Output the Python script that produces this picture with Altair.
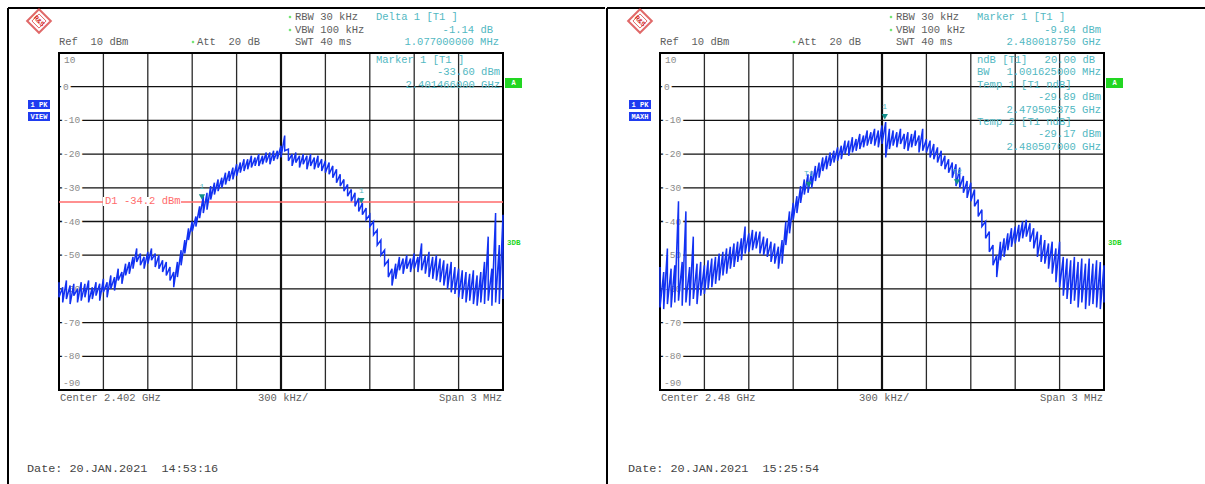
import altair as alt
import pandas as pd

# ---------------- data ----------------
SWEEP_START = -1.5      # MHz offset from centre
SWEEP_STEP = 0.025      # MHz per display column

# auto-peak detector: max and min level of each display column (dBm)
LEFT_HI = [
    -58, -59.5, -57.5, -59, -58.5, -60, -58, -58.5, -57.5, -59.5, -58, -58.5,
    -57, -58, -56, -56.5, -54, -55, -52.5, -52, -50.5, -48, -49.5, -50.5,
    -49, -48, -49.5, -50, -51.5, -52, -53.5, -55, -52, -48.5, -45.5, -42,
    -40, -38.5, -35.5, -32.5, -31.5, -29.5, -28.5, -27.5, -27, -25.5, -25, -24,
    -23, -22.5, -21.5, -21.5, -20.5, -21, -20, -20.5, -19.5, -19.5, -19, -19,
    -17.5, -14.5, -18.5, -20, -19.5, -20.5, -20, -20.5, -20, -21, -20.5, -21.5,
    -22, -22.5, -23.5, -24.5, -26, -27.5, -29, -30.5, -31.5, -33, -34.5, -36,
    -38, -40, -42.5, -45.5, -48.5, -51.5, -54, -52.5, -50.5, -51, -50, -51,
    -49.5, -50.5, -46.5, -50, -49, -50.5, -50, -51, -51.5, -52.5, -52, -53.5,
    -54, -54.5, -55, -55.5, -54.5, -56, -55, -52, -44.5, -54, -37.5, -47,
    -38,
]
LEFT_LO = [
    -62.5, -64, -63, -64.5, -62, -64, -63.5, -62.5, -64, -63, -62, -63.5,
    -61, -62.5, -60, -60.5, -57.5, -58.5, -56, -55.5, -54, -52, -53, -54,
    -52.5, -51.5, -53.5, -54, -55, -56, -57.5, -59.5, -56.5, -53, -49.5, -45.5,
    -43, -41.5, -39, -37.5, -36.5, -33.5, -32, -31, -30, -29, -28, -27.5,
    -26.5, -25.5, -25, -24.5, -24, -23.5, -23.5, -23, -22.5, -23, -22, -21.5,
    -21, -19, -22, -23.5, -22.5, -24, -23, -24.5, -23.5, -24.5, -24, -25,
    -25.5, -26, -27, -28.5, -29.5, -31, -32.5, -34, -35.5, -37, -38, -39.5,
    -41.5, -44, -47, -50, -53, -56.5, -59, -57, -54.5, -55.5, -54, -55,
    -54, -55, -54.5, -55.5, -56.5, -57, -57.5, -58, -59, -60, -61, -61.5,
    -62.5, -63, -64, -63.5, -64.5, -65, -64, -64.5, -63.5, -65, -64, -64.5,
    -63,
]

RIGHT_HI = [
    -53.5, -55, -48, -54, -53, -34, -52, -37, -53.5, -44.5, -52.5, -52,
    -53, -51.5, -51, -50.5, -49.5, -49, -48, -47.5, -46.5, -46, -45, -41.5,
    -43.5, -42.5, -43, -43, -44.5, -45, -46, -46.5, -47.5, -45.5, -40, -37,
    -34.5, -32.5, -29.5, -27.5, -26, -25, -23.5, -22.5, -21, -20.5, -19.5, -19,
    -18, -17.5, -16, -16, -15, -15.5, -14, -14.5, -13, -13.5, -12.5, -13,
    -11.5, -10.5, -12.5, -13, -13.5, -12.5, -14, -13.5, -14, -13, -14.5, -12.5,
    -15.5, -16, -17, -18, -19, -20.5, -21.5, -22.5, -23, -24, -26.5, -28,
    -28.5, -30.5, -33.5, -36.5, -40, -43, -47, -50, -46, -45, -43.5, -42,
    -41.5, -41, -40, -39.5, -40.5, -42, -43, -44, -45.5, -46.5, -46, -48,
    -46, -50.5, -51, -51.5, -50.5, -52, -51, -52.5, -51, -52.5, -51.5, -52,
    -53,
]
RIGHT_LO = [
    -65.5, -66, -64.5, -65.5, -64, -63.5, -65, -64, -65, -63, -64.5, -62,
    -61.5, -60, -59.5, -58.5, -57.5, -56, -55.5, -54, -53.5, -52, -51.5, -49.5,
    -49, -48.5, -48, -49.5, -50, -50.5, -52, -52.5, -54, -52.5, -47, -43.5,
    -39.5, -37.5, -34.5, -32, -31.5, -30, -28, -27, -25, -24.5, -23.5, -22.5,
    -22, -21.5, -20, -20.5, -19.5, -19, -18.5, -18, -17.5, -17, -17.5, -18,
    -17, -21, -18.5, -17.5, -18, -17, -18.5, -19, -18, -17.5, -19.5, -19,
    -19.5, -21, -21.5, -22.5, -23.5, -24.5, -25.5, -27, -29.5, -30, -31.5, -33,
    -34, -35.5, -38.5, -41.5, -45, -49, -53, -56.5, -51.5, -50.5, -48.5, -47.5,
    -46.5, -46, -45, -44.5, -46, -48, -50.5, -52, -52.5, -54, -55.5, -58,
    -59.5, -62, -63, -64.5, -63.5, -65.5, -64, -66, -65, -64.5, -65.5, -66,
    -64,
]

GRID_F = [-1.2, -0.9, -0.6, -0.3, 0.3, 0.6, 0.9, 1.2]
CENTER_F = [0.0]
GRID_DB = [0, -10, -20, -30, -40, -50, -60, -70, -80]
Y_LABELS = ["0", "-10", "-20", "-30", "-40", "-50", "-60", "-70", "-80"]
TOP_LABEL = "10"
BOTTOM_LABEL = "-90"

DISPLAY_LINE_DB = [-34.2]
DISPLAY_LINE_TEXT = "D1 -34.2 dBm"

LEFT_MARKER_F = [-0.534, 0.543]
LEFT_MARKER_DB = [-33.60, -34.74]
LEFT_MARKER_TAG = ["1", "1"]
RIGHT_MARKER_F = [0.01875, -0.494625, 0.507]
RIGHT_MARKER_DB = [-9.84, -29.89, -29.17]
RIGHT_MARKER_TAG = ["1", "T1", "T2"]

NB = "\u00a0"
SETTINGS = ["RBW 30 kHz", "VBW 100 kHz", "SWT 40 ms"]
REF_TEXT = "Ref" + NB * 2 + "10 dBm"
ATT_TEXT = "Att" + NB * 2 + "20 dB"
TRACE_BOX = ["1 PK", "VIEW", "1 PK", "MAXH"]

LEFT_HEAD = ["Delta 1 [T1 ]", "-1.14 dB", "1.077000000 MHz"]
LEFT_IN = ["Marker 1 [T1 ]", "-33.60 dBm", "2.401466000 GHz"]
RIGHT_HEAD = ["Marker 1 [T1 ]", "-9.84 dBm", "2.480018750 GHz"]
RIGHT_IN_LEFT = ["ndB [T1]", "BW", "Temp 1 [T1 ndB]", "Temp 2 [T1 ndB]"]
RIGHT_IN_RIGHT = ["20.00 dB", "1.001625000 MHz", "-29.89 dBm",
                  "2.479505375 GHz", "-29.17 dBm", "2.480507000 GHz"]

LEFT_FOOT = ["Center 2.402 GHz", "300 kHz/", "Span 3 MHz"]
RIGHT_FOOT = ["Center 2.48 GHz", "300 kHz/", "Span 3 MHz"]
DATES = ["Date: 20.JAN.2021" + NB * 2 + "14:53:16",
         "Date: 20.JAN.2021" + NB * 2 + "15:25:54"]

# ---------------- style ----------------
MONO = "Liberation Mono"
GRAY = "#5e5e5e"
TEAL = "#52b8c2"
MARK_TEAL = "#13908c"
BLUE = "#1232f2"
GREEN = "#22d622"
RED = "#ff6b6b"
FS = 10.5

YS = alt.Scale(domain=[-90, 10], range=[390, 53], nice=False, zero=False)


def xscale(x0, x1):
    return alt.Scale(domain=[-1.5, 1.5], range=[x0, x1], nice=False, zero=False)


def text(s, x, y, color=GRAY, size=FS, align="left", bold=False, angle=None):
    kw = dict(text=s, align=align, baseline="middle", font=MONO, fontSize=size, color=color)
    if bold:
        kw["fontWeight"] = "bold"
    if angle is not None:
        kw["angle"] = angle
    return [alt.Chart().mark_text(**kw).encode(x=alt.value(x), y=alt.value(y))]


def rule(x, x2, y, y2, color="black", width=1.0):
    return alt.Chart().mark_rule(color=color, strokeWidth=width).encode(
        x=alt.value(x), x2=alt.value(x2), y=alt.value(y), y2=alt.value(y2))


def box(x, x2, y, y2, fill):
    return alt.Chart().mark_rect(color=fill).encode(
        x=alt.value(x), x2=alt.value(x2), y=alt.value(y), y2=alt.value(y2))


def trace_frame(hi, lo):
    # each display column: stroke from its max down to its min, then on to the next column
    rows = []
    for i, (h, l) in enumerate(zip(hi, lo)):
        f = SWEEP_START + i * SWEEP_STEP
        rows.append({"f": f, "db": h, "o": 2 * i})
        rows.append({"f": f, "db": l, "o": 2 * i + 1})
    return pd.DataFrame(rows)


def panel(ox, x0, x1, hi, lo, mf, mdb, mtag, trace_label, foot, date, left):
    xs = xscale(x0, x1)
    L = []
    # logo
    L.append(alt.Chart().mark_point(shape="diamond", size=560, filled=True, fill="white",
                                    stroke="#d42a2a", strokeWidth=2).encode(
        x=alt.value(ox + 39), y=alt.value(21)))
    L.append(alt.Chart().mark_point(shape="diamond", size=200, filled=False,
                                    stroke="#d42a2a", strokeWidth=1).encode(
        x=alt.value(ox + 39), y=alt.value(21)))
    L += text("R&S", ox + 39, 21, color="#d42a2a", size=7, align="center", bold=True, angle=45)

    # header settings
    for s, yy in zip(SETTINGS, [17, 30, 42]):
        L += text(s, ox + 295, yy)
    for bx, by in [(ox + 290, 17), (ox + 290, 30), (ox + 193, 42)]:
        L.append(alt.Chart().mark_point(shape="diamond", size=10, filled=True, color=GREEN).encode(
            x=alt.value(bx), y=alt.value(by)))
    L += text(REF_TEXT, ox + 59, 42)
    L += text(ATT_TEXT, ox + 197, 42)

    # grid
    gdf = pd.DataFrame({"f": GRID_F})
    L.append(alt.Chart(gdf).mark_rule(color="#2a2a2a", strokeWidth=1.3).encode(
        x=alt.X("f:Q", scale=xs, axis=None), y=alt.value(53), y2=alt.value(390)))
    cdf = pd.DataFrame({"f": CENTER_F})
    L.append(alt.Chart(cdf).mark_rule(color="#111111", strokeWidth=2.2).encode(
        x=alt.X("f:Q", scale=xs, axis=None), y=alt.value(53), y2=alt.value(390)))
    hdf = pd.DataFrame({"db": GRID_DB, "lab": Y_LABELS})
    L.append(alt.Chart(hdf).mark_rule(color="#111111", strokeWidth=1.3).encode(
        y=alt.Y("db:Q", scale=YS, axis=None), x=alt.value(x0), x2=alt.value(x1)))
    lab_kw = dict(align="left", baseline="middle", font=MONO, fontSize=9.5)
    L.append(alt.Chart(hdf).mark_text(color="white", stroke="white", strokeWidth=5, **lab_kw).encode(
        y=alt.Y("db:Q", scale=YS, axis=None), x=alt.value(x0 + 4), text="lab:N"))
    L.append(alt.Chart(hdf).mark_text(color="#8a8a8a", **lab_kw).encode(
        y=alt.Y("db:Q", scale=YS, axis=None), x=alt.value(x0 + 4), text="lab:N"))
    L += text(TOP_LABEL, x0 + 5, 60, color="#8a8a8a", size=9.5)
    L += text(BOTTOM_LABEL, x0 + 4, 383, color="#8a8a8a", size=9.5)

    # plot frame
    L.append(alt.Chart().mark_rect(fillOpacity=0, stroke="black", strokeWidth=2).encode(
        x=alt.value(x0), x2=alt.value(x1), y=alt.value(53), y2=alt.value(390)))

    # display line (left only)
    if left:
        ddf = pd.DataFrame({"db": DISPLAY_LINE_DB})
        L.append(alt.Chart(ddf).mark_rule(color=RED, strokeWidth=1.6).encode(
            y=alt.Y("db:Q", scale=YS, axis=None), x=alt.value(x0), x2=alt.value(x1)))
        L.append(box(ox + 103, ox + 181, 197, 206, "white"))
        L += text(DISPLAY_LINE_TEXT, ox + 105, 201, color=RED)

    # trace
    tdf = trace_frame(hi, lo)
    L.append(alt.Chart(tdf).mark_line(color=BLUE, strokeWidth=1.5).encode(
        x=alt.X("f:Q", scale=xs, axis=None), y=alt.Y("db:Q", scale=YS, axis=None),
        order="o:Q"))

    # markers
    mdf = pd.DataFrame({"f": mf, "db": mdb, "tag": mtag})
    L.append(alt.Chart(mdf).mark_point(shape="triangle-down", filled=True, size=40,
                                       color=MARK_TEAL, opacity=1, yOffset=-3).encode(
        x=alt.X("f:Q", scale=xs, axis=None), y=alt.Y("db:Q", scale=YS, axis=None)))
    L.append(alt.Chart(mdf).mark_text(color=TEAL, font=MONO, fontSize=8, dy=-13).encode(
        x=alt.X("f:Q", scale=xs, axis=None), y=alt.Y("db:Q", scale=YS, axis=None), text="tag:N"))

    # side boxes
    L.append(box(ox + 28, ox + 50, 100, 109, "#1f3cf0"))
    L.append(box(ox + 28, ox + 50, 112, 121, "#1f3cf0"))
    L += text(trace_label[0], ox + 39, 105, color="white", size=7, align="center", bold=True)
    L += text(trace_label[1], ox + 39, 116.5, color="white", size=7, align="center", bold=True)
    L.append(box(x1 + 2, x1 + 19, 78, 88, GREEN))
    L += text("A", x1 + 10.5, 83, color="white", size=7, align="center", bold=True)
    L += text("3DB", x1 + 4, 243, color=GREEN, size=7.5, bold=True)

    # footer
    L += text(foot[0], ox + 60, 398)
    L += text(foot[1], ox + 258, 398)
    L += text(foot[2], x1 - 1, 398, align="right")
    L += text(date, ox + 27, 468, color="#444444", size=11.8)
    return L


layers = []
# outer frames
layers.append(rule(8, 8, 8, 484, width=2))
layers.append(rule(8, 605, 8, 8, width=2))
layers.append(rule(607, 607, 8, 484, width=2))
layers.append(rule(607, 1205, 8, 8, width=2))

layers += panel(0, 59, 503, LEFT_HI, LEFT_LO, LEFT_MARKER_F, LEFT_MARKER_DB, LEFT_MARKER_TAG,
                TRACE_BOX[0:2], LEFT_FOOT, DATES[0], True)
layers += panel(601, 660, 1104, RIGHT_HI, RIGHT_LO, RIGHT_MARKER_F, RIGHT_MARKER_DB,
                RIGHT_MARKER_TAG, TRACE_BOX[2:4], RIGHT_FOOT, DATES[1], False)

# left readouts
layers += text(LEFT_HEAD[0], 376, 17, color=TEAL)
layers += text(LEFT_HEAD[1], 493, 30, color=TEAL, align="right")
layers += text(LEFT_HEAD[2], 499, 42, color=TEAL, align="right")
layers += text(LEFT_IN[0], 376, 60, color=TEAL)
layers += text(LEFT_IN[1], 500, 72, color=TEAL, align="right")
layers += text(LEFT_IN[2], 500, 85, color=TEAL, align="right")

# right readouts
layers += text(RIGHT_HEAD[0], 977, 17, color=TEAL)
layers += text(RIGHT_HEAD[1], 1101, 30, color=TEAL, align="right")
layers += text(RIGHT_HEAD[2], 1101, 42, color=TEAL, align="right")
for s, yy in zip(RIGHT_IN_LEFT, [60, 72, 85, 122]):
    layers += text(s, 977, yy, color=TEAL)
for s, xx, yy in zip(RIGHT_IN_RIGHT, [1095, 1101, 1101, 1101, 1101, 1101],
                     [60, 72, 97, 110, 134, 147]):
    layers += text(s, xx, yy, color=TEAL, align="right")

chart = (
    alt.layer(*layers)
    .resolve_scale(x="independent")
    .properties(width=1205, height=484, padding=0, background="white",
                autosize=alt.AutoSizeParams(type="none"))
    .configure_view(stroke=None)
)

chart.save("out.html", embed_options={"renderer": "svg", "actions": False})
